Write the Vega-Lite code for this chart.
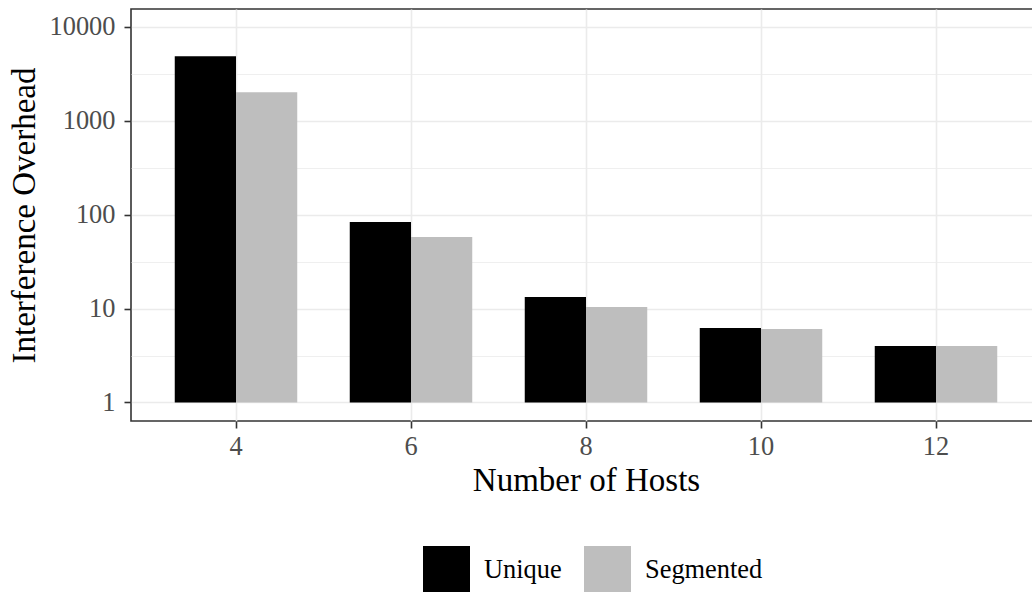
{
  "$schema": "https://vega.github.io/schema/vega-lite/v6.json",
  "width": 910,
  "height": 412,
  "autosize": {"type": "none"},
  "padding": {"left": 131, "top": 9, "right": 0, "bottom": 171},
  "background": "white",
  "config": {
    "font": "Liberation Serif",
    "view": {"stroke": "#333333", "strokeWidth": 1.6},
    "axis": {
      "labelFont": "Liberation Serif",
      "titleFont": "Liberation Serif",
      "titleFontWeight": "normal",
      "titleColor": "#000000",
      "labelColor": "#4D4D4D",
      "domain": false,
      "tickColor": "#333333",
      "tickWidth": 1.6,
      "tickSize": 7,
      "gridColor": "#EBEBEB"
    }
  },
  "data": {
    "values": [
      {"hosts": 4, "series": "Unique", "overhead": 4875},
      {"hosts": 4, "series": "Segmented", "overhead": 2018},
      {"hosts": 6, "series": "Unique", "overhead": 83.4},
      {"hosts": 6, "series": "Segmented", "overhead": 57.8},
      {"hosts": 8, "series": "Unique", "overhead": 13.3},
      {"hosts": 8, "series": "Segmented", "overhead": 10.4},
      {"hosts": 10, "series": "Unique", "overhead": 6.21},
      {"hosts": 10, "series": "Segmented", "overhead": 6.06},
      {"hosts": 12, "series": "Unique", "overhead": 4.0},
      {"hosts": 12, "series": "Segmented", "overhead": 4.0}
    ]
  },
  "layer": [
    {
      "mark": {"type": "point", "opacity": 0},
      "encoding": {
        "y": {
          "field": "overhead",
          "type": "quantitative",
          "axis": {
            "orient": "right",
            "values": [3.1623, 31.623, 316.23, 3162.3],
            "grid": true,
            "gridWidth": 0.8,
            "labels": false,
            "ticks": false,
            "domain": false,
            "title": null
          }
        }
      }
    },
    {
      "mark": {"type": "bar"},
      "encoding": {
        "x": {
          "field": "hosts",
          "type": "ordinal",
          "scale": {"paddingInner": 0.3, "paddingOuter": 0.25},
          "axis": {
            "title": "Number of Hosts",
            "titleFontSize": 33,
            "titlePadding": 5,
            "labelFontSize": 26.4,
            "labelAngle": 0,
            "labelPadding": 5,
            "grid": true,
            "gridWidth": 1.6,
            "bandPosition": 0.5
          }
        },
        "xOffset": {
          "field": "series",
          "type": "nominal",
          "sort": ["Unique", "Segmented"],
          "scale": {"paddingInner": 0, "paddingOuter": 0}
        },
        "y": {
          "field": "overhead",
          "type": "quantitative",
          "scale": {"type": "log", "domain": [0.635, 15500], "nice": false},
          "axis": {
            "orient": "left",
            "title": "Interference Overhead",
            "titleFontSize": 33,
            "titlePadding": 8,
            "labelFontSize": 26.4,
            "labelPadding": 9,
            "values": [1, 10, 100, 1000, 10000],
            "format": "d",
            "grid": true,
            "gridWidth": 1.6
          }
        },
        "y2": {"datum": 1},
        "color": {
          "field": "series",
          "type": "nominal",
          "scale": {"domain": ["Unique", "Segmented"], "range": ["#000000", "#BEBEBE"]},
          "legend": {
            "title": null,
            "orient": "none",
            "legendX": 292,
            "legendY": 537,
            "direction": "horizontal",
            "symbolType": "square",
            "symbolSize": 2209,
            "symbolStrokeWidth": 0,
            "symbolOpacity": 1,
            "labelFont": "Liberation Serif",
            "labelFontSize": 26.4,
            "labelColor": "#000000",
            "labelOffset": 14,
            "columnPadding": 22,
            "padding": 0
          }
        }
      }
    }
  ],
  "resolve": {"axis": {"y": "independent"}}
}
